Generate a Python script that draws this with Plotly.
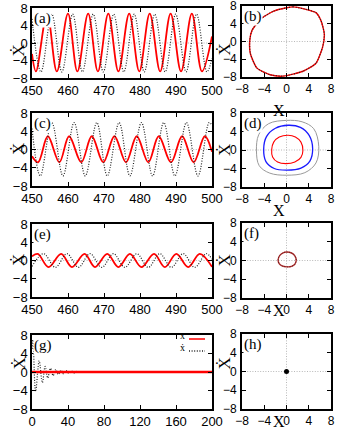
import plotly.graph_objects as go

# ── values (t, x) / (t, xdot) / (x, xdot) ──
# (a) large oscillation
A_T_X = [450, 451.1, 454.2, 456.9, 460.0, 462.6, 465.6, 468.3, 471.2, 474.0,
         477.0, 479.8, 482.7, 485.6, 488.5, 491.4, 494.4, 497.2, 500]
A_X = [-2.5, -6.5, 6.7, -6.5, 6.7, -6.5, 6.7, -6.5, 6.7, -6.5,
       6.7, -6.5, 6.7, -6.5, 6.7, -6.5, 6.7, -6.5, 1.5]
A_T_V = [450, 452.5, 455.5, 458.3, 461.3, 464.0, 467.0, 469.8, 472.7, 475.5,
         478.4, 481.2, 484.1, 487.0, 489.9, 492.8, 495.7, 498.6, 500]
A_V = [5.5, -6.6, 6.6, -6.6, 6.6, -6.6, 6.6, -6.6, 6.6, -6.6,
       6.6, -6.6, 6.6, -6.6, 6.6, -6.6, 6.6, -6.6, -3.5]

# (b) phase portrait of (a)
B_X = [0.0, 1.2, 3.3, 5.3, 6.2, 6.8, 6.5, 5.3, 2.95, -0.6, -2.95, -5.3,
       -6.5, -6.6, -6.2, -4.7, -2.4, 0.0]
B_V = [7.6, 7.8, 7.3, 6.5, 4.7, 1.7, -1.2, -4.9, -6.7, -7.8, -7.5, -6.0,
       -2.7, 0.3, 2.5, 5.0, 6.8, 7.6]

# (c) medium oscillation
C_T_X = [450, 451.7, 454.4, 457.6, 460.3, 463.7, 466.6, 469.8, 472.9, 476.1,
         479.1, 482.3, 485.2, 488.6, 491.7, 494.9, 498.0, 500]
C_X = [-1.5, -2.8, 2.9, -2.8, 2.9, -2.8, 2.9, -2.8, 2.9, -2.8,
       2.9, -2.8, 2.9, -2.8, 2.9, -2.8, 2.9, -0.5]
C_T_V = [450, 452.3, 455.5, 458.6, 461.7, 464.8, 468.0, 470.9, 474.2, 477.2,
         480.4, 483.5, 486.6, 489.7, 492.9, 496.1, 499.2, 500]
C_V = [4.6, -5.8, 5.9, -5.8, 5.9, -5.8, 5.9, -5.8, 5.9, -5.8,
       5.9, -5.8, 5.9, -5.8, 5.9, -5.8, 5.9, 5.3]

# (d) three limit cycles
D_RED_X = [0.3, 1.6, 2.6, 2.95, 2.6, 1.5, -0.1, -1.6, -2.5, -2.66, -2.3, -1.3, 0.3]
D_RED_V = [3.2, 2.8, 1.7, -0.1, -1.6, -2.6, -2.95, -2.6, -1.5, 0.1, 1.7, 2.8, 3.2]
D_BLUE_X = [0.3, 2.5, 4.1, 4.7, 4.2, 2.6, 0.1, -2.2, -3.7, -4.1, -3.6, -2.0, 0.3]
D_BLUE_V = [5.35, 4.9, 3.1, 0.3, -2.4, -3.9, -4.35, -4.0, -2.5, 0.2, 2.9, 4.7, 5.35]
D_GRAY_X = [0.0, 2.8, 4.9, 5.8, 5.3, 3.3, 0.0, -3.0, -4.9, -5.4, -5.0, -3.2, 0.0]
D_GRAY_V = [6.4, 6.1, 4.6, 0.8, -2.8, -4.9, -5.45, -5.0, -3.4, -0.2, 3.3, 5.7, 6.4]

# (e) small oscillation
E_T_X = [450, 451.6, 454.6, 458.1, 461.1, 464.6, 467.5, 470.9, 474.0, 477.2,
         480.4, 483.9, 486.9, 490.1, 493.4, 496.6, 500]
E_X = [0.9, 1.45, -1.45, 1.45, -1.45, 1.45, -1.45, 1.45, -1.45, 1.45,
       -1.45, 1.45, -1.45, 1.45, -1.45, 1.45, -1.4]
E_T_V = [450, 453.2, 456.5, 459.7, 462.9, 466.1, 469.4, 472.6, 475.8, 479.1,
         482.3, 485.5, 488.7, 492.0, 495.2, 498.4, 500]
E_V = [-1.3, 1.5, -1.5, 1.5, -1.5, 1.5, -1.5, 1.5, -1.5, 1.5,
       -1.5, 1.5, -1.5, 1.5, -1.5, 1.5, 0.3]

# (f) phase portrait of (e)
F_X = [0.0, 0.9, 1.5, 1.75, 1.5, 0.9, 0.1, -0.8, -1.35, -1.5, -1.2, -0.6, 0.0]
F_V = [1.8, 1.6, 1.0, 0.1, -0.8, -1.25, -1.35, -1.15, -0.6, 0.2, 1.1, 1.65, 1.8]

# (g) decay to the fixed point
G_T_X = [0, 200]
G_X = [0, 0]
G_T_V = [0, 1, 4, 8, 11.5, 14.6, 17.5, 20.5, 23.5, 26.4, 29.3, 32.2, 35.1,
         38, 41, 44, 47, 50, 53, 56, 59, 62, 65, 70, 80, 120, 200]
G_V = [5.0, 7.0, -4.2, 2.4, -2.3, 1.2, -1.3, 0.8, -0.8, 0.55, -0.55, 0.4, -0.4,
       0.3, -0.3, 0.22, -0.22, 0.16, -0.16, 0.1, -0.08, 0.05, -0.04, 0, 0, 0, 0]

# (h) fixed point
H_X = [0]
H_V = [0]

TS_YTICKS = [-8, -4, 0, 4, 8]
TS_XTICKS = [450, 460, 470, 480, 490, 500]
G_XTICKS = [0, 40, 80, 120, 160, 200]
PH_TICKS = [-8, -4, 0, 4, 8]
PANEL_LABELS = ["(a)", "(b)", "(c)", "(d)", "(e)", "(f)", "(g)", "(h)"]
LEGEND_LABELS = ["x", "\u1e8b"]      # x, x-dot
Y_TITLE = "\u1e8a"                    # X-dot
X_TITLE = "X"

W, H = 341, 442
SERIF = "Liberation Serif, DejaVu Serif"
SANS = "Liberation Sans"
RED = "#ff0000"
DOT = "#222222"
FINE_DOT = "1px,1.6px"


def px(x):
    return x / W


def py(y):
    return 1 - y / H


def ax_id(n):
    return "" if n == 1 else str(n)


# pixel boxes (left, right, top, bottom) of each panel
TS_X = (32, 212)
PH_X = (242, 331)
ROWS_TS = [(8, 78), (113, 186), (224, 297), (335, 409)]
ROWS_PH = [(6, 77), (113, 187), (223, 298), (334, 409)]

fig = go.Figure()


def line(ax, xs, ys, color, width, dash="solid", smooth=1.0):
    fig.add_trace(go.Scatter(
        x=xs, y=ys, mode="lines", xaxis="x" + ax_id(ax), yaxis="y" + ax_id(ax),
        line={"color": color, "width": width, "dash": dash,
              "shape": "spline", "smoothing": smooth},
        showlegend=False, hoverinfo="skip",
    ))


# time series: x red solid, xdot black dotted
line(1, A_T_X, A_X, RED, 1.8)
line(1, A_T_V, A_V, DOT, 1.2, FINE_DOT)
line(3, C_T_X, C_X, RED, 1.8)
line(3, C_T_V, C_V, DOT, 1.2, FINE_DOT)
line(5, E_T_X, E_X, RED, 1.8)
line(5, E_T_V, E_V, DOT, 1.2, FINE_DOT)
line(7, G_T_V, G_V, DOT, 1.2, FINE_DOT)
line(7, G_T_X, G_X, RED, 2.5)

# phase portraits
line(2, B_X, B_V, RED, 1.4, smooth=0.6)
line(2, B_X, B_V, DOT, 1.1, FINE_DOT, smooth=0.6)
line(4, D_GRAY_X, D_GRAY_V, "#9a9a9a", 1.0)
line(4, D_BLUE_X, D_BLUE_V, "#1a1aff", 1.3)
line(4, D_RED_X, D_RED_V, RED, 1.1)
line(6, F_X, F_V, "#b03030", 1.4)
line(6, F_X, F_V, "#5a1a1a", 0.9, FINE_DOT)
fig.add_trace(go.Scatter(
    x=H_X, y=H_V, mode="markers", xaxis="x8", yaxis="y8",
    marker={"color": "black", "size": 5}, showlegend=False, hoverinfo="skip",
))

axis_common = dict(
    showline=True, linecolor="black", mirror="allticks", ticks="inside",
    ticklen=4, tickcolor="black", showgrid=False, zeroline=False,
    automargin=False, ticklabeloverflow="allow",
    tickfont={"family": SANS, "size": 13, "color": "black"}, fixedrange=True,
)
phase_font = {"family": SANS, "size": 12, "color": "black"}

layout = {}
shapes = []
annotations = []
for i in range(4):
    ts, ph = 2 * i + 1, 2 * i + 2
    tsi, phi = ax_id(ts), ax_id(ph)
    (t0, t1), (p0, p1) = ROWS_TS[i], ROWS_PH[i]
    xt = G_XTICKS if i == 3 else TS_XTICKS
    layout[f"xaxis{tsi}"] = dict(
        axis_common, domain=[px(TS_X[0]), px(TS_X[1])], anchor=f"y{tsi}",
        range=[xt[0], xt[-1]], tickvals=xt, linewidth=1.5,
    )
    layout[f"yaxis{tsi}"] = dict(
        axis_common, domain=[py(t1), py(t0)], anchor=f"x{tsi}",
        range=[-8, 8], tickvals=TS_YTICKS, linewidth=1.5,
    )
    layout[f"xaxis{phi}"] = dict(
        axis_common, domain=[px(PH_X[0]), px(PH_X[1])], anchor=f"y{phi}",
        range=[-8, 8], tickvals=PH_TICKS, linewidth=2, tickfont=phase_font,
        ticklabelstandoff=0,
    )
    layout[f"yaxis{phi}"] = dict(
        axis_common, domain=[py(p1), py(p0)], anchor=f"x{phi}",
        range=[-8, 8], tickvals=PH_TICKS, linewidth=2, ticklabelstandoff=1,
        tickfont=phase_font,
    )

    dotted = {"color": "#b8b8b8", "width": 1, "dash": FINE_DOT}
    shapes.append(dict(type="line", xref=f"x{tsi} domain", yref=f"y{tsi}",
                       x0=0, x1=1, y0=0, y1=0, line=dotted, layer="below"))
    shapes.append(dict(type="line", xref=f"x{phi} domain", yref=f"y{phi}",
                       x0=0, x1=1, y0=0, y1=0, line=dotted, layer="below"))
    shapes.append(dict(type="line", xref=f"x{phi}", yref=f"y{phi} domain",
                       x0=0, x1=0, y0=0, y1=1, line=dotted, layer="below"))

    # panel letters
    for ax, (left, top) in ((ts, (TS_X[0] + 1, t0 + 1)), (ph, (PH_X[0] + 1, p0 + 1))):
        annotations.append(dict(
            text=PANEL_LABELS[ax - 1], x=px(left), y=py(top), xref="paper", yref="paper",
            xanchor="left", yanchor="top", showarrow=False, bgcolor="white",
            font={"family": SERIF, "size": 15, "color": "black"}, borderpad=0,
        ))

    # axis titles
    annotations.append(dict(
        text=Y_TITLE, x=px(7), y=py((t0 + t1) / 2), xref="paper", yref="paper",
        textangle=-90, showarrow=False,
        font={"family": SERIF, "size": 17, "color": "black"},
    ))
    annotations.append(dict(
        text=Y_TITLE, x=px(224), y=py((p0 + p1) / 2), xref="paper", yref="paper",
        textangle=-90, showarrow=False,
        font={"family": SERIF, "size": 17, "color": "black"},
    ))
    annotations.append(dict(
        text=X_TITLE, x=px(287), y=py(p1 + 23), xref="paper", yref="paper",
        showarrow=False, font={"family": SERIF, "size": 16, "color": "black"},
    ))

# legend of (g): text left of the sample line
for k, (label, color, dash) in enumerate(zip(LEGEND_LABELS, (RED, DOT), ("solid", FINE_DOT))):
    yy = 341 + 12 * k
    annotations.append(dict(
        text=label, x=px(186), y=py(yy + 1), xref="paper", yref="paper",
        xanchor="right", yanchor="bottom", showarrow=False, borderpad=0,
        font={"family": SERIF, "size": 10, "color": "black"},
    ))
    shapes.append(dict(type="line", xref="paper", yref="paper",
                       x0=px(189), x1=px(205), y0=py(yy - 2), y1=py(yy - 2),
                       line={"color": color, "width": 1.5, "dash": dash}))

fig.update_layout(
    **layout,
    shapes=shapes,
    annotations=annotations,
    width=W, height=H,
    margin={"l": 0, "r": 0, "t": 0, "b": 0},
    paper_bgcolor="white", plot_bgcolor="white",
    showlegend=False,
)

# the page's default body margin would push the 341x442 figure off the window
fig.write_html("out.html", config={"displayModeBar": False},
               post_script="document.body.style.margin = '0';")
